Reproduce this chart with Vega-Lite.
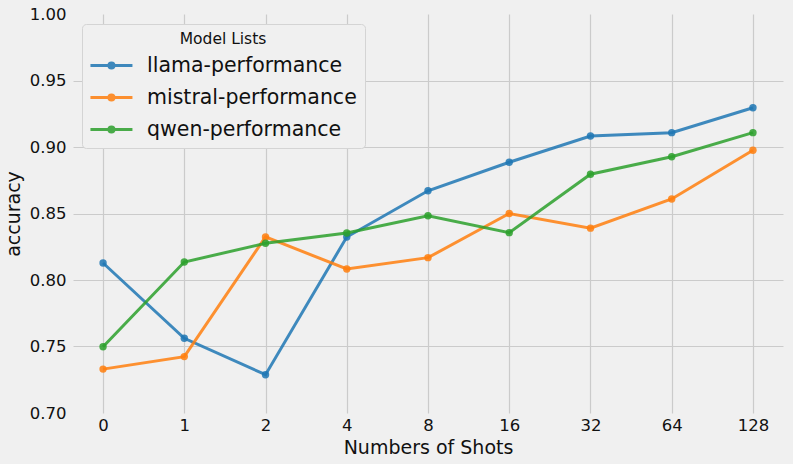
{
  "$schema": "https://vega.github.io/schema/vega-lite/v6.json",
  "width": 710,
  "height": 399,
  "autosize": {"type": "none"},
  "padding": {"left": 73, "top": 14, "right": 10, "bottom": 51},
  "background": "#f0f0f0",
  "config": {
    "view": {"stroke": null, "fill": "#f0f0f0"},
    "font": "DejaVu Sans",
    "axis": {
      "domain": false,
      "ticks": false,
      "grid": true,
      "gridColor": "#cbcbcb",
      "gridWidth": 1.2,
      "labelFont": "DejaVu Sans",
      "labelFontSize": 16.5,
      "labelColor": "#111111",
      "titleFont": "DejaVu Sans",
      "titleFontSize": 19,
      "titleFontWeight": "normal",
      "titleColor": "#111111"
    }
  },
  "data": {
    "values": [
      {"shots": "0", "model": "llama-performance", "accuracy": 0.8128},
      {"shots": "1", "model": "llama-performance", "accuracy": 0.7562},
      {"shots": "2", "model": "llama-performance", "accuracy": 0.7288},
      {"shots": "4", "model": "llama-performance", "accuracy": 0.8323},
      {"shots": "8", "model": "llama-performance", "accuracy": 0.8671},
      {"shots": "16", "model": "llama-performance", "accuracy": 0.8885},
      {"shots": "32", "model": "llama-performance", "accuracy": 0.9083},
      {"shots": "64", "model": "llama-performance", "accuracy": 0.9108},
      {"shots": "128", "model": "llama-performance", "accuracy": 0.9295},
      {"shots": "0", "model": "mistral-performance", "accuracy": 0.7330},
      {"shots": "1", "model": "mistral-performance", "accuracy": 0.7424},
      {"shots": "2", "model": "mistral-performance", "accuracy": 0.8324},
      {"shots": "4", "model": "mistral-performance", "accuracy": 0.8083},
      {"shots": "8", "model": "mistral-performance", "accuracy": 0.8168},
      {"shots": "16", "model": "mistral-performance", "accuracy": 0.8500},
      {"shots": "32", "model": "mistral-performance", "accuracy": 0.8390},
      {"shots": "64", "model": "mistral-performance", "accuracy": 0.8609},
      {"shots": "128", "model": "mistral-performance", "accuracy": 0.8975},
      {"shots": "0", "model": "qwen-performance", "accuracy": 0.7498},
      {"shots": "1", "model": "qwen-performance", "accuracy": 0.8135},
      {"shots": "2", "model": "qwen-performance", "accuracy": 0.8276},
      {"shots": "4", "model": "qwen-performance", "accuracy": 0.8353},
      {"shots": "8", "model": "qwen-performance", "accuracy": 0.8483},
      {"shots": "16", "model": "qwen-performance", "accuracy": 0.8356},
      {"shots": "32", "model": "qwen-performance", "accuracy": 0.8795},
      {"shots": "64", "model": "qwen-performance", "accuracy": 0.8927},
      {"shots": "128", "model": "qwen-performance", "accuracy": 0.9108}
    ]
  },
  "encoding": {
    "x": {
      "field": "shots",
      "type": "ordinal",
      "sort": ["0", "1", "2", "4", "8", "16", "32", "64", "128"],
      "scale": {"type": "point", "padding": 0.37},
      "axis": {"labelAngle": 0, "labelPadding": 4, "title": "Numbers of Shots", "titlePadding": 5, "grid": true}
    },
    "y": {
      "field": "accuracy",
      "type": "quantitative",
      "scale": {"domain": [0.7, 1.0], "nice": false, "zero": false},
      "axis": {
        "values": [0.7, 0.75, 0.8, 0.85, 0.9, 0.95, 1.0],
        "format": ".2f",
        "labelPadding": 7,
        "title": "accuracy",
        "titlePadding": 6,
        "gridOpacity": {"condition": {"test": "datum.value < 0.701 || datum.value > 0.999", "value": 0}, "value": 1}
      }
    },
    "color": {
      "field": "model",
      "type": "nominal",
      "scale": {
        "domain": ["llama-performance", "mistral-performance", "qwen-performance"],
        "range": ["#1f77b4", "#ff7f0e", "#2ca02c"]
      },
      "legend": {
        "title": "Model Lists",
        "orient": "none",
        "legendX": 9,
        "legendY": 10,
        "titleFont": "DejaVu Sans",
        "titleFontSize": 15.5,
        "titleFontWeight": "normal",
        "titleColor": "#111111",
        "titleAnchor": "middle",
        "titlePadding": 6,
        "labelFont": "DejaVu Sans",
        "labelFontSize": 20.5,
        "labelLimit": 400,
        "labelColor": "#111111",
        "labelOffset": 33,
        "rowPadding": 9,
        "symbolType": "M -1.1 0 L 2.9 0 M 1.14 0 A 0.24 0.24 0 1 1 0.66 0 A 0.24 0.24 0 1 1 1.14 0 Z",
        "symbolSize": 441,
        "symbolStrokeWidth": 3,
        "symbolOpacity": 0.85,
        "fillColor": "#f0f0f0",
        "strokeColor": "#d4d4d4",
        "cornerRadius": 4,
        "padding": 8,
        "offset": 0,
        "encode": {
          "symbols": {"update": {"fill": {"scale": "color", "field": "value"}}}
        }
      }
    }
  },
  "layer": [
    {"mark": {"type": "line", "strokeWidth": 3, "opacity": 0.85}},
    {"mark": {"type": "circle", "size": 55, "opacity": 0.85}}
  ]
}
